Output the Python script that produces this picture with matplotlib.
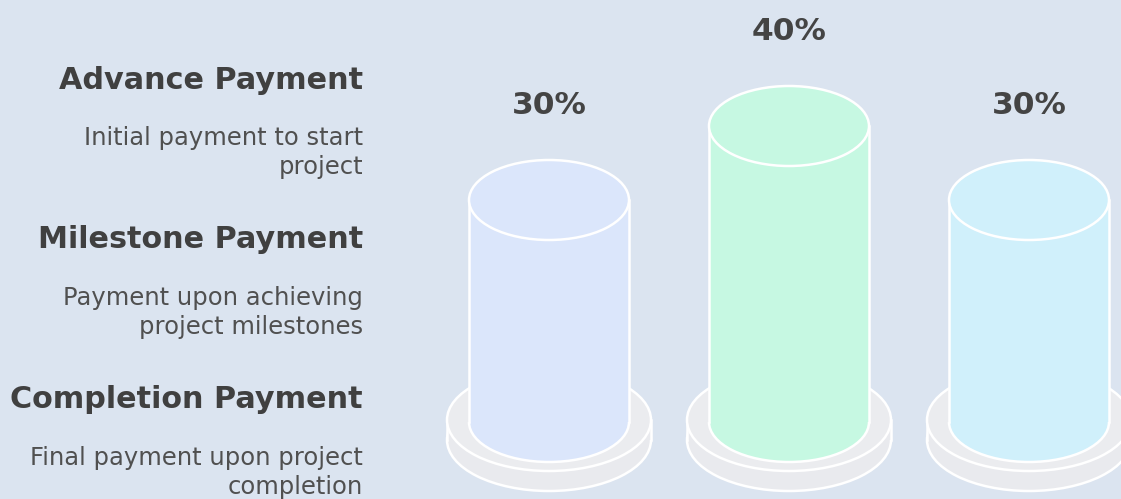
import matplotlib
matplotlib.use("Agg")
import matplotlib.pyplot as plt
from matplotlib.patches import Ellipse, Rectangle, Arc

# ---- data ----
categories = ["Advance Payment", "Milestone Payment", "Completion Payment"]
descriptions = [["Initial payment to start", "project"],
                ["Payment upon achieving", "project milestones"],
                ["Final payment upon project", "completion"]]
values = [30, 40, 30]
value_labels = ["30%", "40%", "30%"]
bar_colors = ["#dbe6fb", "#c6f8e2", "#d0f0fb"]

W, H = 1121, 499
fig = plt.figure(figsize=(W / 100, H / 100), dpi=100)
fig.patch.set_facecolor("#dbe4f0")
ax = fig.add_axes([0, 0, 1, 1])
ax.set_xlim(0, W)
ax.set_ylim(H, 0)
ax.axis("off")
ax.set_facecolor("#dbe4f0")

# layout (pixel space)
centers = [549, 789, 1029]
rx, ry = 80, 40
base_y = 422
scale = 7.4
prx, pry = 102, 51
p_top, p_bot = 420, 440
edge_lw = 1.8

for cx, v, lab, col in zip(centers, values, value_labels, bar_colors):
    # platform
    ax.add_patch(Ellipse((cx, p_bot), 2 * prx, 2 * pry, facecolor="#e9eaee",
                         edgecolor="white", lw=edge_lw, zorder=1))
    ax.add_patch(Rectangle((cx - prx, p_top), 2 * prx, p_bot - p_top,
                           facecolor="#e9eaee", edgecolor="none", zorder=1.1))
    ax.plot([cx - prx, cx - prx], [p_top, p_bot], color="white", lw=edge_lw, zorder=1.2)
    ax.plot([cx + prx, cx + prx], [p_top, p_bot], color="white", lw=edge_lw, zorder=1.2)
    ax.add_patch(Ellipse((cx, p_top), 2 * prx, 2 * pry, facecolor="#ebecef",
                         edgecolor="white", lw=edge_lw, zorder=1.3))
    # cylinder
    top_y = base_y - v * scale
    ax.add_patch(Ellipse((cx, base_y), 2 * rx, 2 * ry, facecolor=col,
                         edgecolor="none", zorder=2))
    ax.add_patch(Arc((cx, base_y), 2 * rx, 2 * ry, theta1=0, theta2=180,
                     color="white", lw=edge_lw, zorder=2.3))
    ax.add_patch(Rectangle((cx - rx, top_y), 2 * rx, base_y - top_y,
                           facecolor=col, edgecolor="none", zorder=2.1))
    ax.plot([cx - rx, cx - rx], [top_y, base_y], color="white", lw=edge_lw, zorder=2.2)
    ax.plot([cx + rx, cx + rx], [top_y, base_y], color="white", lw=edge_lw, zorder=2.2)
    ax.add_patch(Ellipse((cx, top_y), 2 * rx, 2 * ry, facecolor=col,
                         edgecolor="white", lw=edge_lw, zorder=2.4))
    ax.text(cx, top_y - ry - 55, lab, ha="center", va="center",
            fontsize=22.5, fontweight="bold", color="#444444",
            family="DejaVu Sans", zorder=3)

# left side text
text_x = 363
title_y = [80, 240, 400]
for cat, desc, ty in zip(categories, descriptions, title_y):
    ax.text(text_x, ty, cat, ha="right", va="center", fontsize=21.8,
            fontweight="bold", color="#404040", family="DejaVu Sans")
    for i, line in enumerate(desc):
        ax.text(text_x, ty + 58 + 29 * i, line, ha="right", va="center",
                fontsize=17.5, color="#505050", family="DejaVu Sans")

fig.savefig("out.png", dpi=100, facecolor=fig.get_facecolor())
